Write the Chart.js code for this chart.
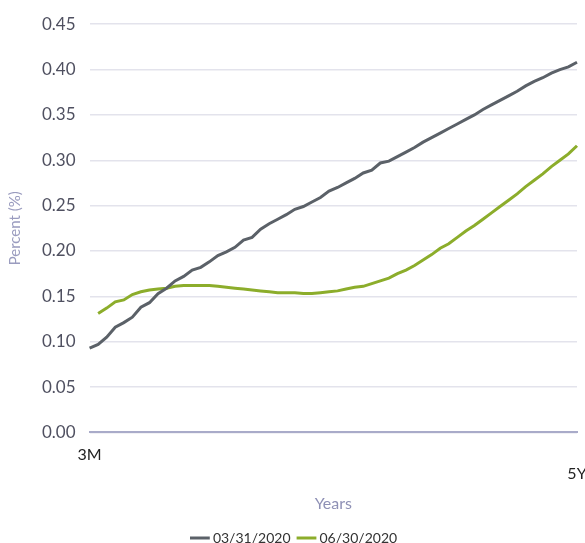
<!DOCTYPE html>
<html>
<head>
<meta charset="utf-8">
<script src="https://cdn.jsdelivr.net/npm/chart.js@4/dist/chart.umd.min.js"></script>
<style>
  html, body { margin: 0; padding: 0; background: #ffffff; }
  #wrap { width: 585px; height: 543px; }
</style>
</head>
<body>
<div id="wrap"><canvas id="c" width="585" height="543"></canvas></div>
<script>
// Maturity points from 3 months out to 5 years (monthly steps)
const tenors = ['3M'].concat(new Array(56).fill(''), ['5Y']);

// Yield curve, percent
const curveMar = [
  0.093, 0.097, 0.105, 0.116, 0.121, 0.127, 0.138, 0.143, 0.153, 0.159,
  0.167, 0.172, 0.179, 0.182, 0.188, 0.195, 0.199, 0.204, 0.212, 0.215,
  0.224, 0.230, 0.235, 0.240, 0.246, 0.249, 0.254, 0.259, 0.266, 0.270,
  0.275, 0.280, 0.286, 0.289, 0.297, 0.299, 0.304, 0.309, 0.314, 0.320,
  0.325, 0.330, 0.335, 0.340, 0.345, 0.350, 0.356, 0.361, 0.366, 0.371,
  0.376, 0.382, 0.387, 0.391, 0.396, 0.400, 0.403, 0.408
];
const curveJun = [
  null, 0.131, 0.137, 0.144, 0.146, 0.152, 0.155, 0.157, 0.158, 0.159,
  0.161, 0.162, 0.162, 0.162, 0.162, 0.161, 0.160, 0.159, 0.158, 0.157,
  0.156, 0.155, 0.154, 0.154, 0.154, 0.153, 0.153, 0.154, 0.155, 0.156,
  0.158, 0.160, 0.161, 0.164, 0.167, 0.170, 0.175, 0.179, 0.184, 0.190,
  0.196, 0.203, 0.208, 0.215, 0.222, 0.228, 0.235, 0.242, 0.249, 0.256,
  0.263, 0.271, 0.278, 0.285, 0.293, 0.300, 0.307, 0.316
];
const seriesNames = ['03/31/2020', '06/30/2020'];
const yTicks = { min: 0, max: 0.45, step: 0.05 };

const FONT = "'Lato', 'Liberation Sans', sans-serif";

new Chart(document.getElementById('c'), {
  type: 'line',
  data: {
    labels: tenors,
    datasets: [
      {
        label: seriesNames[0],
        data: curveMar,
        borderColor: '#5b6168',
        backgroundColor: '#5b6168',
        borderWidth: 3,
        pointRadius: 0,
        tension: 0
      },
      {
        label: seriesNames[1],
        data: curveJun,
        borderColor: '#8cad2b',
        backgroundColor: '#8cad2b',
        borderWidth: 3,
        pointRadius: 0,
        tension: 0
      }
    ]
  },
  options: {
    responsive: false,
    animation: false,
    layout: { padding: { top: 4, right: 0, left: 6, bottom: -12 } },
    plugins: {
      tooltip: { enabled: false },
      legend: {
        position: 'bottom',
        labels: {
          usePointStyle: true,
          pointStyle: 'line',
          boxWidth: 12,
          font: { family: FONT, size: 14 },
          color: '#333333',
          padding: 10
        }
      }
    },
    scales: {
      x: {
        grid: { display: false, drawTicks: false },
        border: { display: true, color: '#a9abc9', width: 2 },
        // only leave room for half of the last label on the right
        afterFit: function (scale) { scale.paddingRight = 8; },
        ticks: {
          autoSkip: false,
          maxRotation: 0,
          padding: 13,
          color: '#222222',
          font: { family: FONT, size: 16 },
          callback: function (v, i) {
            if (i === 0) return tenors[0];
            if (i === tenors.length - 1) return ['', tenors[i]];
            return '';
          }
        },
        title: {
          display: true,
          text: 'Years',
          color: '#8e90b5',
          font: { family: FONT, size: 16 },
          padding: { top: -3, bottom: 8 }
        }
      },
      y: {
        min: yTicks.min,
        max: yTicks.max,
        grid: {
          drawTicks: false,
          color: '#e3e3ec',
          lineWidth: 1.5
        },
        border: { display: false },
        ticks: {
          stepSize: yTicks.step,
          padding: 14,
          color: '#4f5060',
          font: { family: FONT, size: 17 },
          callback: v => v.toFixed(2)
        },
        title: {
          display: true,
          text: 'Percent (%)',
          color: '#9a9cbf',
          font: { family: FONT, size: 15 },
          padding: { top: 0, bottom: 4 }
        }
      }
    }
  }
});
</script>
</body>
</html>
